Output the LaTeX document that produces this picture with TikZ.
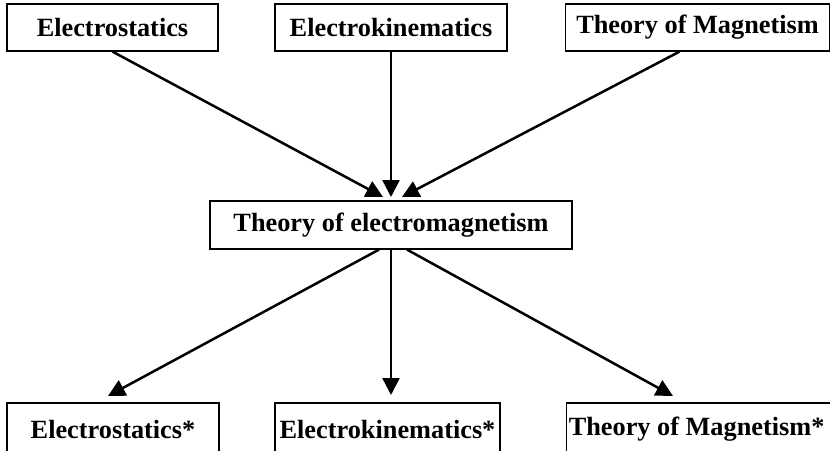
\documentclass[tikz,border=0pt]{standalone}
\usepackage{fontspec}
\setmainfont{Liberation Serif}
\usetikzlibrary{arrows.meta,calc}

\begin{document}
\begin{tikzpicture}[
    x=1pt, y=-1pt,
    font=\fontsize{26.3}{30}\selectfont\bfseries,
    >={Triangle[length=17pt, width=17pt]},
    topic/.style={draw, line width=1.2pt, inner sep=0pt, minimum height=47pt, align=center},
    result/.style={topic, minimum height=52pt},
    arrow/.style={->, line width=2.5pt},
]
    \useasboundingbox (0,0) rectangle (830,450);
    \clip (0,0) rectangle (830,450);

    % top row
    \node[topic, minimum width=211pt] (es) at (112.5, 27.5) {Electrostatics};
    \node[topic, minimum width=232pt] (ek) at (391, 27.5) {Electrokinematics};
    \node[topic, minimum width=264pt] (tm) at (697.5, 27.5) {Theory of Magnetism};

    % middle
    \node[topic, minimum width=362pt, minimum height=48pt] (em) at (391, 225) {Theory of electromagnetism};

    % bottom row (cut off by the page edge)
    \node[result, minimum width=212pt] (es2) at (113, 429) {Electrostatics*};
    \node[result, minimum width=225pt] (ek2) at (387.5, 429) {Electrokinematics*};
    \node[result, minimum width=268pt, anchor=west] (tm2) at (566, 429) {\hspace*{-8pt}Theory of Magnetism*};

    % arrow tips
    \coordinate (inA) at (383, 197);
    \coordinate (inB) at (391, 197);
    \coordinate (inC) at (402, 197);
    \coordinate (outA) at (108, 396);
    \coordinate (outB) at (391, 395);
    \coordinate (outC) at (673, 396);

    \draw[arrow] (es.south) -- (inA);
    \draw[arrow] (ek.south) -- (inB);
    \draw[arrow] ($(tm.south)+(-18,0)$) -- (inC);

    \draw[arrow] ($(em.south)+(-12,0)$) -- (outA);
    \draw[arrow] (em.south) -- (outB);
    \draw[arrow] ($(em.south)+(16,0)$) -- (outC);

\end{tikzpicture}
\end{document}
